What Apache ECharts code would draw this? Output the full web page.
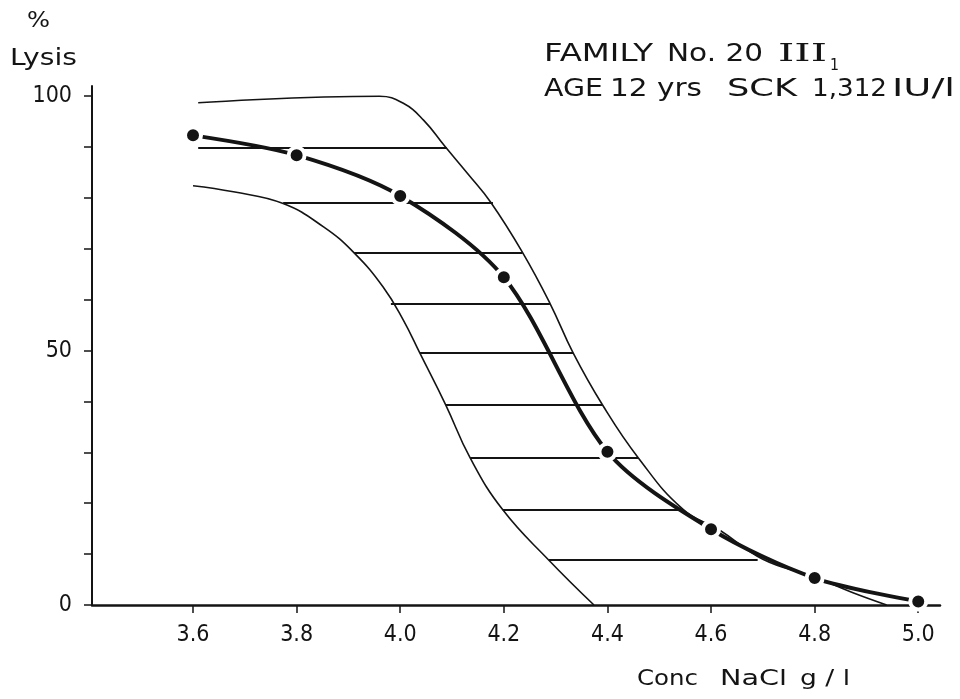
<!DOCTYPE html>
<html><head><meta charset="utf-8">
<script src="https://cdn.jsdelivr.net/npm/echarts@6/dist/echarts.min.js"></script>
<style>html,body{margin:0;padding:0;background:#fff}#c{width:960px;height:699px}</style>
</head><body><div id="c"></div>
<script>
// Tick labels
const xTicks = [3.6, 3.8, 4.0, 4.2, 4.4, 4.6, 4.8, 5.0];
const yTicks = [0, 10, 20, 30, 40, 50, 60, 70, 80, 90, 100];
const yLabels = [0, 50, 100];

// Measured lysis curve (dots)
const concMain = [3.6, 3.8, 4.0, 4.2, 4.4, 4.6, 4.8, 5.0];
const lysisMain = [92.3, 88.4, 80.4, 64.4, 30.1, 14.9, 5.3, 0.7];

// Normal range: upper boundary
const upperConc = [3.61, 3.96, 4.006, 4.045, 4.085, 4.130, 4.175, 4.236, 4.289, 4.334, 4.390, 4.459, 4.546, 4.617, 4.70, 4.797, 4.874, 4.939];
const upperLysis = [98.7, 100, 98.6, 95.3, 90.3, 84.8, 79.1, 69.3, 59.3, 49.5, 39.4, 29, 18.8, 14.7, 9, 5.6, 2.4, 0];

// Normal range: lower boundary
const lowerConc = [3.6, 3.678, 3.774, 3.852, 3.911, 3.967, 4.006, 4.038, 4.088, 4.135, 4.198, 4.287, 4.374];
const lowerLysis = [82.4, 81.2, 78.9, 74.3, 69.2, 62.5, 56.0, 49.5, 39.3, 28.9, 18.7, 8.8, 0];

// Hatching of the normal range
const hatchLysis = [89.8, 79.1, 69.3, 59.3, 49.5, 39.4, 28.9, 18.8, 8.9];
const hatchFrom = [3.61, 3.774, 3.911, 3.982, 4.038, 4.088, 4.135, 4.198, 4.287];
const hatchTo = [4.090, 4.179, 4.236, 4.289, 4.334, 4.390, 4.459, 4.546, 4.690];

const FONT = 'DejaVu Sans';
const NUMFONT = "'DejaVu Sans Condensed', 'DejaVu Sans'";
const INK = '#141414';
const zip = (a, b) => a.map((v, i) => [v, b[i]]);

const mctx = document.createElement('canvas').getContext('2d');
function word(text, x0, x1, cy, size, family) {
  const font = size + 'px ' + family;
  mctx.font = font;
  const w = mctx.measureText(text).width;
  return {type: 'text', x: x0, y: cy, scaleX: (x1 - x0) / w, silent: true,
          style: {text: text, font: font, fill: INK, align: 'left', verticalAlign: 'middle'}};
}

const chart = echarts.init(document.getElementById('c'), null, {renderer: 'canvas'});
chart.setOption({
  animation: false,
  backgroundColor: '#fff',
  grid: {left: 92, right: 20, top: 86, bottom: 94},
  xAxis: {
    type: 'value', min: 3.405, max: 5.042,
    axisLine: {lineStyle: {color: INK, width: 2.5}},
    axisTick: {customValues: xTicks, length: 8, lineStyle: {color: INK, width: 1.5}},
    axisLabel: {customValues: xTicks, formatter: v => v.toFixed(1), margin: 19, fontSize: 23, color: INK, fontFamily: NUMFONT},
    splitLine: {show: false}
  },
  yAxis: {
    type: 'value', min: 0, max: 102,
    axisLine: {show: true, lineStyle: {color: INK, width: 2}},
    axisTick: {show: true, customValues: yTicks, length: 8, lineStyle: {color: INK, width: 1.5}},
    axisLabel: {customValues: yLabels, margin: 20, fontSize: 23, color: INK, fontFamily: NUMFONT},
    splitLine: {show: false}
  },
  series: [
    {type: 'line', data: zip(upperConc, upperLysis), smooth: 0.45, symbol: 'none',
     lineStyle: {color: INK, width: 1.6}, z: 2},
    {type: 'line', data: zip(lowerConc, lowerLysis), smooth: 0.45, symbol: 'none',
     lineStyle: {color: INK, width: 1.6}, z: 2},
    {type: 'lines', coordinateSystem: 'cartesian2d', polyline: false,
     data: hatchLysis.map((y, i) => ({coords: [[hatchFrom[i], y], [hatchTo[i], y]]})),
     lineStyle: {color: INK, width: 1.8, opacity: 1}, z: 2},
    {type: 'line', data: zip(concMain, lysisMain), smooth: 0.3,
     symbol: 'circle', symbolSize: 16,
     itemStyle: {color: INK, borderColor: '#fff', borderWidth: 4},
     lineStyle: {color: INK, width: 4}, z: 3}
  ],
  graphic: [
    word('%', 27, 50, 21, 22, FONT),
    word('Lysis', 10, 77, 59, 23, FONT),
    word('FAMILY', 544, 653, 55, 24, FONT),
    word('No. 20', 667, 763, 55, 24, FONT),
    word('III', 778, 827, 55, 24, 'DejaVu Serif'),
    word('1', 830, 839, 66, 16, FONT),
    word('AGE', 544, 603, 90, 24, FONT),
    word('12 yrs', 610, 702, 90, 24, FONT),
    word('SCK', 727, 797, 90, 24, FONT),
    word('1,312', 812, 887, 90, 24, FONT),
    word('IU/l', 892, 955, 90, 24, FONT),
    word('Conc', 637, 698, 679, 22, FONT),
    word('NaCl', 720, 787, 679, 22, FONT),
    word('g / l', 800, 850, 679, 22, FONT)
  ]
});
</script></body></html>
